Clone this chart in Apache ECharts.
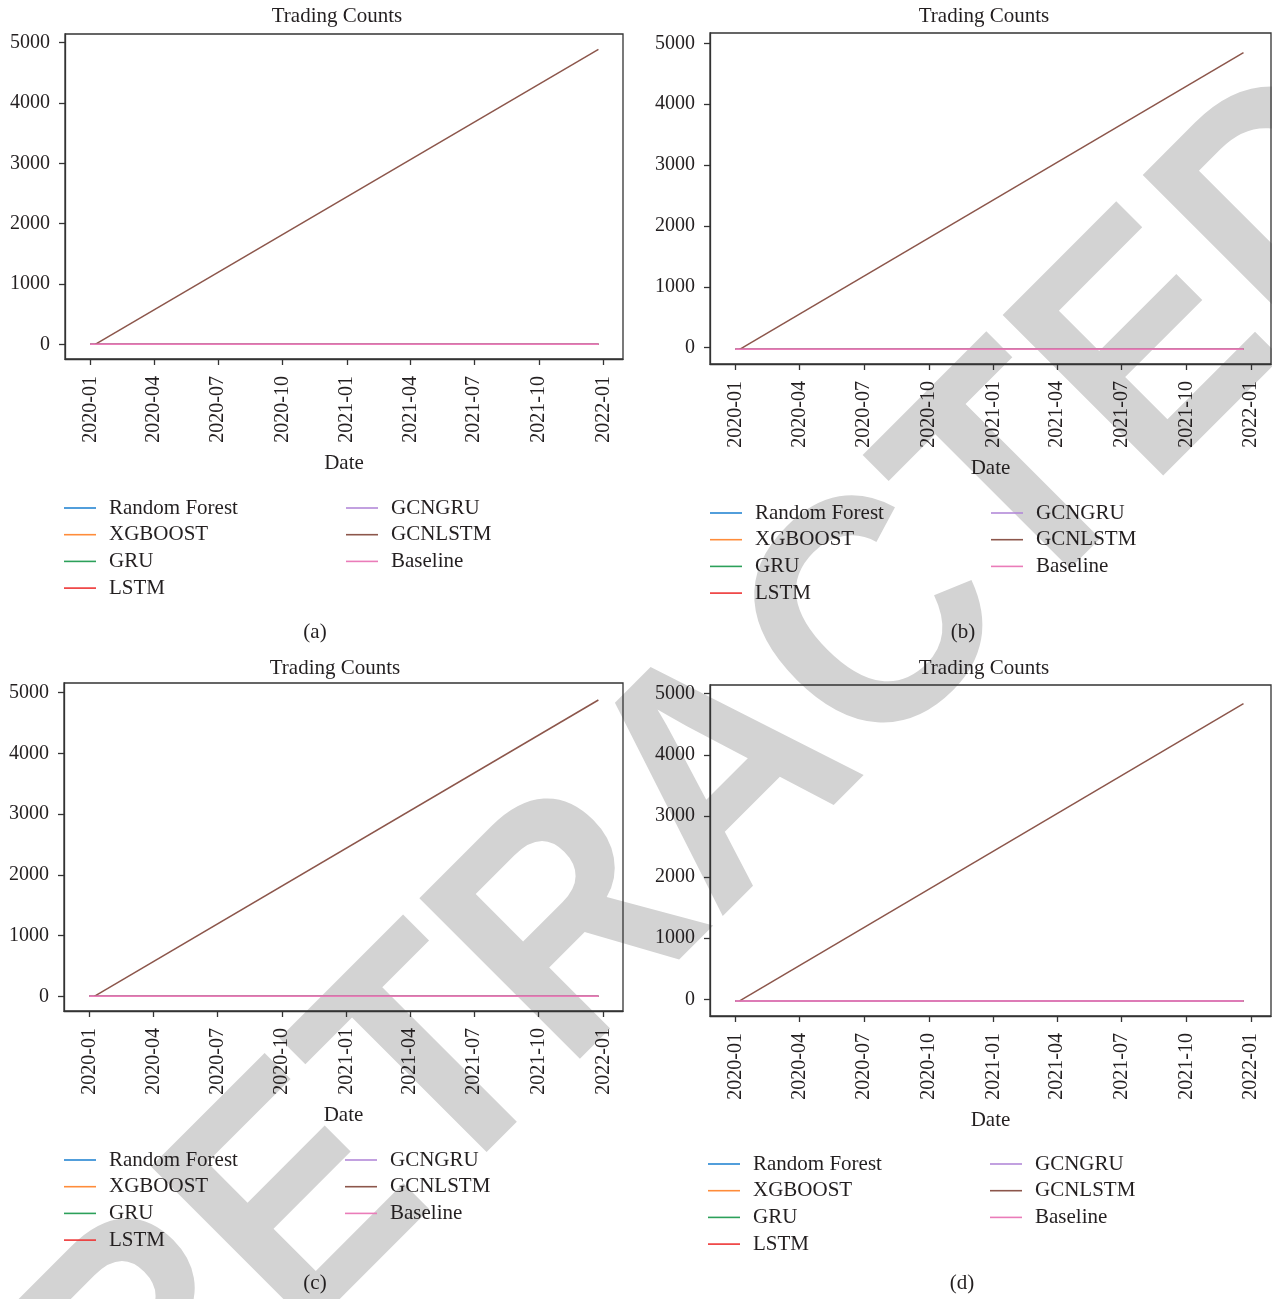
<!DOCTYPE html>
<html>
<head>
<meta charset="utf-8">
<title>Trading Counts</title>
<script src="https://cdn.jsdelivr.net/npm/echarts@6/dist/echarts.min.js"></script>
<style>
  html, body { margin: 0; padding: 0; background: #fff; }
  #chart { width: 1272px; height: 1299px; }
</style>
</head>
<body>
<div id="chart"></div>
<script>
// ---- data -------------------------------------------------------------
const tickLabels = ['2020-01', '2020-04', '2020-07', '2020-10', '2021-01',
                    '2021-04', '2021-07', '2021-10', '2022-01'];
const yTickValues = [0, 1000, 2000, 3000, 4000, 5000];
const modelNames = ['Random Forest', 'XGBOOST', 'GRU', 'LSTM', 'GCNGRU', 'GCNLSTM', 'Baseline'];
const panelLetters = ['(a)', '(b)', '(c)', '(d)'];

// one entry per panel (a, b, c, d)
const firstDates = ['2020-01-01', '2020-01-01', '2020-01-01', '2020-01-01'];
const lastDates = ['2021-12-25', '2021-12-21', '2021-12-25', '2021-12-21'];
const gcnlstmStartDates = ['2020-01-08', '2020-01-07', '2020-01-08', '2020-01-07'];
const gcnlstmEndValues = [4890, 4845, 4880, 4836];
const flatValues = [0, -27, 0, -27];       // baseline and the models that stay at zero

// ---- styling ----------------------------------------------------------
const modelColors = ['#2686d2', '#ff8c3a', '#2ca05a', '#ee3535', '#b389d9', '#8c564b', '#ea7cb9'];
const serif = '"Liberation Serif", "Times New Roman", serif';
const ink = '#231f20';

const layout = [
  { left: 65,  top: 34,  width: 558, height: 325, yMin: -244, yMax: 5144,
    title: [337, 16],  legendTop: 497,  col1: 64,  col2: 346, letter: [315, 632] },
  { left: 710, top: 33,  width: 561, height: 331, yMin: -268, yMax: 5169,
    title: [984, 16],  legendTop: 502,  col1: 710, col2: 991, letter: [963, 632] },
  { left: 64,  top: 683, width: 559, height: 328, yMin: -242, yMax: 5160,
    title: [335, 668], legendTop: 1149, col1: 64,  col2: 345, letter: [315, 1283] },
  { left: 710, top: 685, width: 561, height: 331, yMin: -273, yMax: 5142,
    title: [984, 668], legendTop: 1153, col1: 708, col2: 990, letter: [962, 1283] }
];

// dates are plotted as UTC day timestamps on a numeric axis
const ts = s => { const p = s.split('-').map(Number); return Date.UTC(p[0], p[1] - 1, p[2] || 1); };
const tickTimes = tickLabels.map(ts);
const DAY = 86400000;
const xMin = ts('2020-01-01') - 36 * DAY;
const xMax = ts('2022-01-01') + 28 * DAY;

const axisLineStyle = { color: '#333', width: 1.3 };

const grid = [], xAxis = [], yAxis = [], series = [], legend = [], title = [], graphic = [];

// watermark across the whole sheet, beneath the plots (slightly condensed letters)
graphic.push({
  type: 'text', x: 729, y: 781, rotation: Math.PI / 4, scaleX: 0.9, z: -100, silent: true,
  style: {
    text: 'RETRACTED', fill: '#d3d3d3',
    font: 'bold 330px "Liberation Sans", Arial, sans-serif',
    align: 'center', verticalAlign: 'middle',
    textAlign: 'center', textVerticalAlign: 'middle'
  }
});

layout.forEach((L, i) => {
  grid.push({ left: L.left, top: L.top, width: L.width, height: L.height,
              show: true, borderColor: '#333', borderWidth: 1.3, backgroundColor: 'transparent' });

  xAxis.push({
    type: 'value', gridIndex: i, min: xMin, max: xMax,
    axisLine: { show: true, onZero: false, lineStyle: axisLineStyle },
    axisTick: { show: true, length: 6, customValues: tickTimes, lineStyle: axisLineStyle },
    axisLabel: {
      customValues: tickTimes, rotate: 90, margin: 17,
      fontFamily: serif, fontSize: 20, color: ink,
      formatter: v => { const k = tickTimes.indexOf(v); return k >= 0 ? tickLabels[k] : ''; }
    },
    splitLine: { show: false },
    name: 'Date', nameLocation: 'middle', nameGap: 94,
    nameTextStyle: { fontFamily: serif, fontSize: 21, color: ink }
  });

  yAxis.push({
    type: 'value', gridIndex: i, min: L.yMin, max: L.yMax,
    axisLine: { show: true, onZero: false, lineStyle: axisLineStyle },
    axisTick: { show: true, length: 6, customValues: yTickValues, lineStyle: axisLineStyle },
    axisLabel: { customValues: yTickValues, margin: 15,
                 fontFamily: serif, fontSize: 20, color: ink,
                 formatter: v => String(v) },
    splitLine: { show: false }
  });

  modelNames.forEach((name, k) => {
    let data;
    if (name === 'GCNLSTM') {
      data = [[ts(gcnlstmStartDates[i]), flatValues[i]], [ts(lastDates[i]), gcnlstmEndValues[i]]];
    } else {
      data = [[ts(firstDates[i]), flatValues[i]], [ts(lastDates[i]), flatValues[i]]];
    }
    series.push({
      type: 'line', name, xAxisIndex: i, yAxisIndex: i, data,
      showSymbol: false, symbol: 'none', animation: false,
      color: modelColors[k],
      lineStyle: { color: modelColors[k], width: 1.5 },
      z: 2 + k
    });
  });

  title.push({
    text: 'Trading Counts', left: L.title[0], top: L.title[1] - 10, textAlign: 'center', padding: 0,
    textStyle: { fontFamily: serif, fontSize: 21, fontWeight: 'normal', color: ink }
  });

  const legendBase = {
    orient: 'vertical', top: L.legendTop, padding: 0, itemGap: 4.7,
    icon: 'rect', itemWidth: 32, itemHeight: 1.6, selectedMode: false,
    textStyle: { fontFamily: serif, fontSize: 21, color: ink, lineHeight: 22, padding: [0, 0, 0, 8] }
  };
  legend.push(Object.assign({}, legendBase, { left: L.col1, data: modelNames.slice(0, 4) }));
  legend.push(Object.assign({}, legendBase, { left: L.col2, data: modelNames.slice(4) }));

  graphic.push({
    type: 'text', x: L.letter[0], y: L.letter[1],
    style: { text: panelLetters[i], fill: ink, font: '21px ' + serif,
             align: 'center', verticalAlign: 'middle',
             textAlign: 'center', textVerticalAlign: 'middle' }
  });
});

const chart = echarts.init(document.getElementById('chart'), null, { renderer: 'canvas' });
chart.setOption({
  backgroundColor: '#ffffff',
  animation: false,
  title, grid, xAxis, yAxis, legend, series, graphic
});
</script>
</body>
</html>
